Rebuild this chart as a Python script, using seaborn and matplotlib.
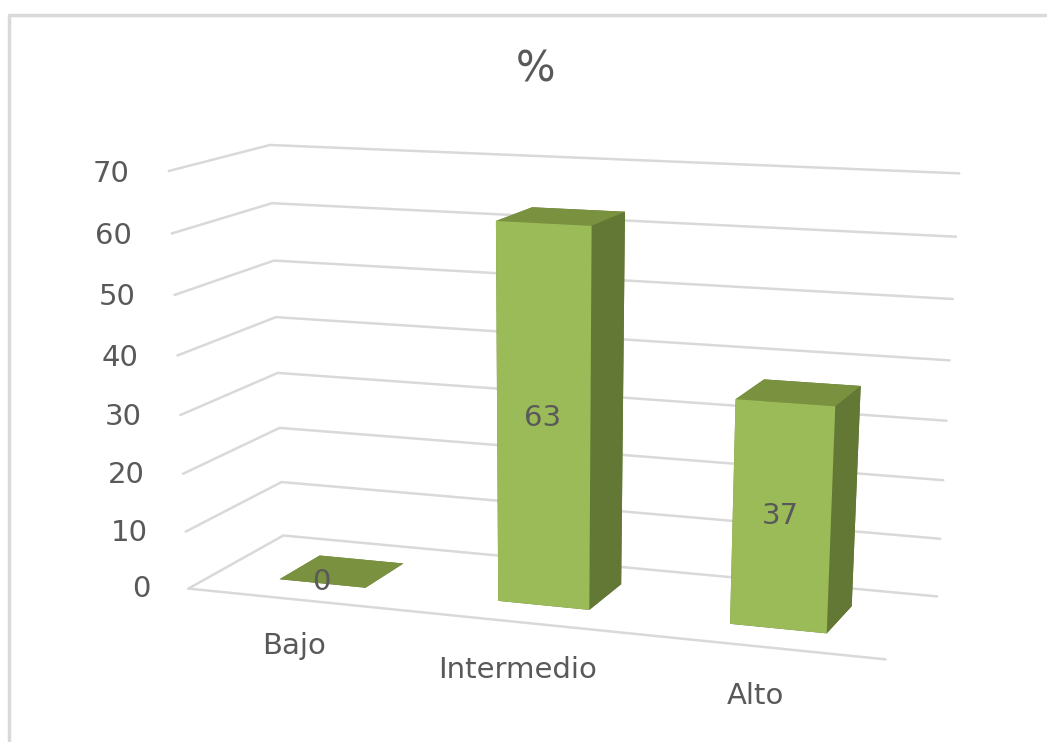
import matplotlib
matplotlib.use("Agg")
import matplotlib.pyplot as plt
import numpy as np
import seaborn as sns
from matplotlib.lines import Line2D
from mpl_toolkits.mplot3d import proj3d

sns.set_theme(style="white")
plt.rcParams["font.family"] = ["DejaVu Sans"]

categories = ["Bajo", "Intermedio", "Alto"]
values = [0, 63, 37]
y_ticks = [0, 10, 20, 30, 40, 50, 60, 70]

W, H = 1047, 742
TEXT = "#595959"
GRID = "#D9D9D9"
BAR_W = 0.4
BAR_Y0, BAR_Y1 = 0.28, 0.72

# face colours of a bar: bottom, top, front, back, left, right
# hidden faces take the colour of what they may show through
front, top, side = sns.color_palette(["#9BBB59", "#7A9140", "#637834"])
face_colors = [side, top, front, side, top, side] * len(values)

# camera calibration: (category, depth, value) and where it sits in the reference
corners = [(-0.5, 0, 0), (-0.5, 1, 0), (2.5, 1, 0), (2.5, 0, 0),
           (-0.5, 0, 70), (-0.5, 1, 70), (2.5, 1, 70),
           (0.8, BAR_Y0, 0), (1.2, BAR_Y0, 0), (1.2, BAR_Y1, 0),
           (0.8, BAR_Y0, 63), (1.2, BAR_Y0, 63), (1.2, BAR_Y1, 63), (0.8, BAR_Y1, 63),
           (1.8, BAR_Y0, 0), (2.2, BAR_Y0, 0), (2.2, BAR_Y1, 0),
           (1.8, BAR_Y0, 37), (2.2, BAR_Y0, 37), (2.2, BAR_Y1, 37), (1.8, BAR_Y1, 37),
           (-0.2, BAR_Y0, 0), (0.2, BAR_Y0, 0), (0.2, BAR_Y1, 0), (-0.2, BAR_Y1, 0)]
pixels = [(190, 590), (275, 535), (940, 596), (885, 662),
          (165, 170), (275, 145), (960, 173),
          (499, 600), (590, 609), (622, 585),
          (497, 221), (592, 226), (624, 213), (530, 209),
          (730, 625), (826, 633), (849, 605),
          (736, 399), (835, 404), (859, 385), (765, 380),
          (283, 577), (365, 587), (403, 565), (323, 556)]


def fit_camera(ax):
    pts = np.array([[x / 3, y, z / 70, 1] for x, y, z in corners])
    uv = np.array(pixels) / W
    weight = np.ones(len(pts))
    for _ in range(20):
        rows = []
        for p, (u, v), k in zip(pts, uv, weight):
            rows.append(np.r_[p, 0, 0, 0, 0, -u * p] / k)
            rows.append(np.r_[0, 0, 0, 0, p, -v * p] / k)
        cam = np.linalg.svd(np.array(rows))[2][-1].reshape(3, 4)
        weight = pts @ cam[2]
    cam = cam / cam[2, 3]
    cam = cam * np.array([1 / 3, 1, 1 / 70, 1])
    # picture pixels to the 2d view of the 3d axes
    a = ax.transData.inverted().transform([(0, H), (W, H), (0, 0)])
    sx = (a[1, 0] - a[0, 0]) / W
    sy = (a[2, 1] - a[0, 1]) / H
    to_view = np.array([[sx, 0, a[0, 0]], [0, sy, a[0, 1]], [0, 0, 1]])
    cam = to_view @ (cam * [[W], [W], [1]])
    # depth row: must stay negative or Line3D masks the points
    return np.array([cam[0], cam[1], [0, 1, 0, -2], cam[2]])


fig = plt.figure(figsize=(W / 100, H / 100), dpi=100)
ax = fig.add_axes([0, -(W - H) / 2 / H, 1, W / H], projection="3d")
ax.set_axis_off()
ax.apply_aspect()
camera = fit_camera(ax)
ax.get_proj = lambda: camera


def label(x, y, z, s, **kw):
    u, v, _ = proj3d.proj_transform(x, y, z, camera)
    ax.text2D(u, v, s, transform=ax.transData, va="center", color=TEXT,
              fontsize=21, zorder=20, **kw)


# grid on the two back walls
for t in y_ticks:
    ax.plot([-0.5, -0.5, 2.5], [0, 1, 1], [t, t, t], color=GRID, lw=1.8, zorder=-1)
    label(-0.68, 0, t - 0.8, str(t), ha="right")
ax.plot([-0.5, 2.5], [0, 0], [0, 0], color=GRID, lw=1.8, zorder=-1)

# bars
x = np.arange(len(values)) - BAR_W / 2
ax.bar3d(x, np.full(len(values), BAR_Y0), np.zeros(len(values)),
         BAR_W, BAR_Y1 - BAR_Y0, values, color=face_colors, shade=False,
         edgecolor="none", linewidth=0)

for i, (name, v) in enumerate(zip(categories, values)):
    label(i - 0.005, BAR_Y0, v / 2 + 0.2, str(v), ha="center")
    label(i - 0.015, 0, -8.3, name, ha="center")

fig.text(535 / W, 1 - 70 / H, "%", ha="center", va="center", color=TEXT, fontsize=30)

# frame of the picture, left and top only
fig.add_artist(Line2D([9 / W, 9 / W, 1], [0, 1 - 15 / H, 1 - 15 / H], color=GRID, lw=2.5))

fig.savefig("out.png", dpi=100, facecolor="white")
